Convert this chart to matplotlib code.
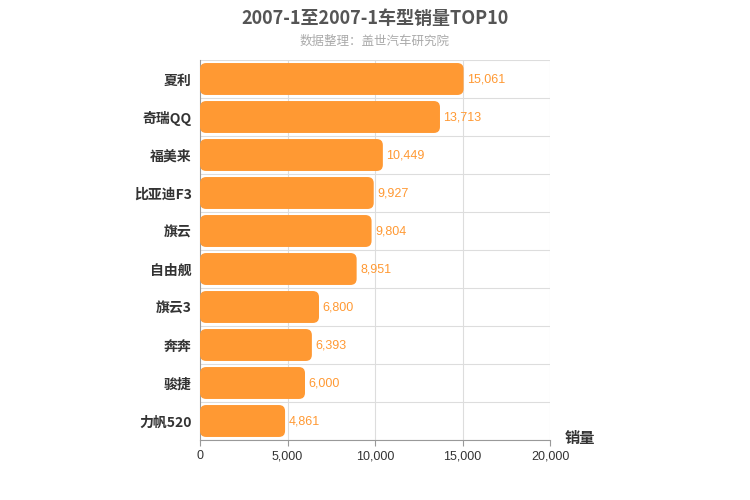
import matplotlib
matplotlib.use("Agg")
import matplotlib.pyplot as plt
from matplotlib.patches import FancyBboxPatch

plt.rcParams["font.family"] = ["Noto Sans CJK SC"]

categories = ["夏利", "奇瑞QQ", "福美来", "比亚迪F3", "旗云", "自由舰", "旗云3", "奔奔", "骏捷", "力帆520"]
values = [15061, 13713, 10449, 9927, 9804, 8951, 6800, 6393, 6000, 4861]
xticks = [0, 5000, 10000, 15000, 20000]

fig = plt.figure(figsize=(7.5, 5), dpi=100)
ax = fig.add_axes([200/750, 60/500, 350/750, 380/500])
n = len(categories)
ax.set_xlim(0, 20000)
ax.set_ylim(n, 0)
color = "#ff9933"
h = 0.84
aspect = (n/380) / (20000/350)
for i, v in enumerate(values):
    p = FancyBboxPatch((0, i + 0.5 - h/2), v, h,
                       boxstyle="round,pad=0,rounding_size=350",
                       mutation_aspect=aspect, fc=color, ec="none", zorder=3)
    ax.add_patch(p)
    ax.text(v + 200, i + 0.5, f"{v:,}", va="center", ha="left",
            color=color, fontsize=9, fontfamily="Liberation Sans", zorder=4)

ax.set_yticks([i + 0.5 for i in range(n)])
ax.set_yticklabels(categories, fontsize=10, color="#333333", fontweight="bold")
ax.set_xticks(xticks)
ax.set_xticklabels([f"{t:,}" for t in xticks], fontsize=9, color="#333333",
                   fontfamily="Liberation Sans")
for i in range(n + 1):
    ax.axhline(i, color="#dddddd", lw=0.8, zorder=1)
for t in xticks[1:]:
    ax.axvline(t, color="#dddddd", lw=0.8, zorder=1)
for s in ["top", "right"]:
    ax.spines[s].set_visible(False)
ax.spines["left"].set_color("#999999")
ax.spines["bottom"].set_color("#999999")
ax.tick_params(axis="y", length=0, pad=6)
ax.tick_params(axis="x", length=4, color="#999999")

fig.text(0.5, 1 - 18/500, "2007-1至2007-1车型销量TOP10", ha="center", va="center",
         fontsize=13, fontweight="bold", color="#555555")
fig.text(0.5, 1 - 41/500, "数据整理：盖世汽车研究院", ha="center", va="center",
         fontsize=9, color="#aaaaaa")
fig.text(580/750, 1 - 438/500, "销量", ha="center", va="center",
         fontsize=11, fontweight="bold", color="#333333")
fig.savefig("out.png")
